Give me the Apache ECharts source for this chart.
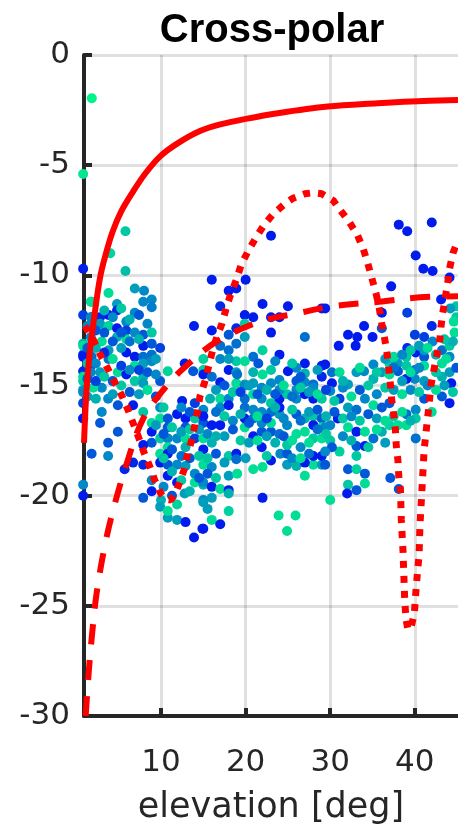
<!DOCTYPE html>
<html>
<head>
<meta charset="utf-8">
<script src="https://cdn.jsdelivr.net/npm/echarts@6/dist/echarts.min.js"></script>
<style>
html,body{margin:0;padding:0;background:#fff;}
#chart{width:458px;height:830px;}
</style>
</head>
<body>
<div id="chart"></div>
<script>
// ---- data ----
const titleText = 'Cross-polar';
const xName = 'elevation [deg]';
const xTicks = [10, 20, 30, 40];
const yTickInterval = 5;

// measured cross-polar points: [elevation, level dB, colour tone 0=blue..1=green]
const scatterData = [
 [1.82,-1.96,1],[0.8,-5.4,0.95],[5.8,-8.0,0.8],[4.0,-9.0,0.85],[0.8,-9.7,0.05],[5.8,-9.8,0.75],
 [23.0,-8.2,0.05],[38.1,-7.7,0.05],[39.1,-8.0,0.05],[42.0,-7.6,0.05],[40.1,-9.1,0.05],[41.0,-9.7,0.05],
 [42.1,-9.8,0.05],[44.1,-10.1,0.05],[37.2,-10.5,0.05],[29.4,-11.5,0.05],[39.1,-11.7,0.2],[36.1,-11.7,0.05],
 [43.1,-11.1,0.05],[34.0,-12.3,0.05],[32.1,-12.7,0.05],[33.2,-12.8,0.05],[35.0,-12.8,0.05],[31.0,-13.2,0.05],
 [33.0,-13.2,0.05],[36.1,-12.4,0.3],[42.0,-12.3,0.1],[40.0,-12.7,0.2],[41.1,-12.8,0.2],[39.1,-13.3,0.1],[40.1,-13.5,0.05],
 [29.4,-14.05,0.05],[30.2,-14.4,0.4],[31.1,-14.4,0.9],[33.1,-14.4,0.6],[34.0,-14.35,0.5],[35.1,-14.05,0.5],
 [36.1,-14.4,0.6],[37.0,-14.0,0.8],[38.0,-14.0,0.6],[39.0,-13.7,0.8],[41.1,-13.7,0.3],[41.1,-13.4,0.6],
 [42.1,-13.0,0.5],[43.2,-13.4,0.4],[44.1,-13.2,0.8],[44.9,-11.4,0.8],[44.9,-11.9,0.8],[44.7,-12.6,0.9],
 [44.1,-13.7,0.5],[43.2,-14.0,0.9],[41.1,-14.1,0.9],[40.0,-14.3,0.4],[39.0,-14.1,0.8],[38.0,-14.35,0.3],
 [37.0,-14.5,0.9],[35.1,-14.7,0.7],[32.1,-14.95,0.6],[30.2,-14.9,0.05],[40.0,-14.7,0.5],[39.0,-14.7,0.05],
 [41.1,-14.8,0.6],[43.2,-14.6,0.7],[44.1,-14.4,0.6],[44.3,-14.9,0.05],[44.9,-14.2,0.3],
 [6.9,-10.6,0.6],[8.0,-10.7,0.5],[3.8,-10.8,0.9],[1.8,-11.2,0.8],[7.9,-11.2,0.5],[8.9,-11.1,0.5],
 [4.8,-11.3,0.6],[8.9,-11.45,0.45],[6.9,-11.7,0.5],[0.8,-11.8,0.2],[3.8,-11.8,0.05],[4.8,-11.6,0.1],
 [1.8,-11.9,0.1],[2.8,-11.9,0.1],[5.9,-12.1,0.5],[13.9,-12.3,0.05],[2.8,-12.2,0.6],[3.8,-12.3,0.85],
 [4.8,-12.4,0.05],[5.9,-12.5,0.2],[7.9,-12.7,0.3],[8.9,-12.6,0.8],[6.9,-12.6,0.5],[4.8,-12.8,0.7],
 [5.9,-12.9,0.9],[0.8,-13.1,0.7],[3.0,-13.0,0.9],[7.9,-13.2,0.05],[8.9,-13.1,0.3],[9.9,-13.3,0.2],
 [3.8,-13.4,0.6],[0.8,-13.6,0.1],[1.8,-13.7,0.4],[5.9,-13.5,0.05],[6.9,-13.7,0.05],[7.9,-13.7,0.4],
 [8.9,-13.6,0.4],[3.8,-13.8,0.4],[6.9,-14.1,0.9],[7.9,-14.0,0.6],[8.9,-13.9,0.5],[0.8,-14.35,0.1],
 [2.8,-14.4,0.6],[4.9,-14.4,0.9],[5.9,-14.5,0.05],[7.9,-14.6,0.7],[10.8,-14.35,0.85],[12.8,-14.0,0.05],
 [0.8,-14.8,0.8],[9.9,-14.8,0.3],[6.9,-14.8,0.8],[7.9,-14.9,0.6],[13.8,-14.35,0.3],[15.0,-14.3,0.85],
 [16.0,-10.2,0.05],[20.0,-10.2,0.05],[18.0,-10.7,0.05],[18.9,-10.6,0.05],[17.0,-11.4,0.1],[22.0,-11.3,0.05],
 [25.0,-11.4,0.05],[29.0,-11.5,0.05],[19.9,-11.8,0.05],[20.9,-11.9,0.05],[23.0,-11.9,0.05],[24.0,-11.9,0.05],
 [16.0,-12.5,0.05],[18.9,-12.4,0.1],[19.9,-12.2,0.8],[23.0,-12.6,0.05],[27.0,-12.8,0.4],[18.0,-12.7,0.3],
 [19.9,-12.8,0.6],[18.9,-13.1,0.4],[22.0,-13.4,0.85],[17.0,-13.2,0.4],[18.0,-13.4,0.4],[20.9,-13.7,0.4],
 [24.0,-13.6,0.05],[15.0,-13.8,0.85],[18.9,-13.9,0.8],[19.9,-13.9,0.9],[17.0,-13.8,0.5],[18.0,-13.8,0.6],
 [27.0,-14.0,0.05],[29.0,-14.1,0.05],[26.0,-14.2,0.5],[15.0,-14.5,0.05],[18.0,-14.3,0.05],[18.9,-14.4,0.6],
 [20.9,-14.4,0.7],[22.0,-14.5,0.9],[23.0,-14.3,0.8],[25.0,-14.35,0.05],[27.0,-14.45,0.7],[29.0,-14.6,0.1],
 [16.0,-14.6,0.4],[17.0,-14.85,0.05],[18.9,-14.9,0.9],[19.9,-14.95,0.7],[20.9,-14.9,0.6],[23.0,-14.9,0.5],
 [24.0,-14.75,0.5],[26.0,-14.8,0.3],[27.0,-14.85,0.5],[28.0,-14.95,0.4],
 [0.8,-15.2,0.6],[3.0,-15.1,0.5],[2.0,-15.1,0.9],[0.8,-15.8,0.2],[3.75,-15.6,0.5],[4.9,-15.9,0.3],
 [6.7,-15.9,0.05],[3.0,-16.2,0.5],[0.8,-16.5,0.3],[2.8,-16.7,0.3],[4.9,-17.1,0.3],[3.75,-17.6,0.3],
 [1.8,-18.1,0.3],[3.75,-18.2,0.5],[6.7,-18.5,0.1],[5.7,-18.8,0.1],[0.8,-19.5,0.5],[0.8,-20.0,0.05],
 [7.9,-20.1,0.3],[8.9,-19.8,0.05],[10.0,-20.2,0.7],[9.9,-20.5,0.6],[10.8,-21.0,0.6],[11.9,-21.1,0.6],
 [12.9,-21.2,0.05],[14.9,-21.5,0.05],[13.9,-21.9,0.05],[10.8,-20.7,0.9],[11.9,-20.4,0.85],[12.8,-19.9,0.6],
 [15.0,-20.2,0.5],[7.9,-16.2,0.8],[8.9,-16.7,0.9],[9.9,-16.0,0.5],[9.9,-16.5,0.9],[10.8,-16.5,0.3],
 [10.8,-16.9,0.3],[11.9,-16.3,0.05],[12.9,-16.5,0.05],[12.9,-16.9,0.3],[14.0,-16.5,0.8],[14.0,-15.8,0.2],
 [15.0,-16.1,0.5],[15.0,-16.7,0.3],[8.9,-17.1,0.05],[8.9,-17.6,0.3],[9.9,-17.4,0.8],[10.8,-17.4,0.5],
 [10.8,-17.8,0.9],[9.9,-18.1,0.9],[11.9,-17.4,0.5],[12.9,-17.4,0.9],[12.9,-17.8,0.7],[14.0,-17.4,0.2],
 [15.0,-17.4,0.9],[10.8,-18.1,0.05],[9.9,-18.5,0.05],[10.8,-18.6,0.3],[11.9,-18.6,0.5],[12.9,-18.65,0.6],
 [14.0,-19.0,0.5],[15.0,-18.6,0.9],[10.8,-19.1,0.05],[11.9,-19.4,0.05],[14.0,-19.4,0.9],[15.0,-19.5,0.7],
 [8.9,-19.3,0.5],[7.9,-17.7,0.05],[7.9,-18.6,0.1],
 [15.8,-15.6,0.7],[17.0,-15.6,0.9],[18.0,-15.6,0.5],[15.0,-16.4,0.05],[16.0,-16.8,0.05],[17.0,-16.8,0.05],
 [17.0,-16.0,0.5],[18.0,-15.9,0.05],[16.0,-17.6,0.7],[15.0,-17.9,0.05],[18.0,-18.2,0.8],[18.9,-18.1,0.05],
 [18.9,-18.35,0.4],[16.0,-18.7,0.5],[18.0,-19.1,0.6],[15.0,-19.4,0.5],[16.0,-19.6,0.05],[17.0,-19.7,0.9],
 [18.0,-19.75,0.05],[18.0,-19.9,0.7],[16.0,-20.1,0.6],[15.0,-20.3,0.6],[18.0,-20.7,0.85],[16.0,-21.1,0.9],
 [17.0,-21.3,0.05],[15.0,-21.5,0.05],[22.0,-20.1,0.05],[23.9,-20.9,0.9],[25.9,-20.9,0.9],[24.9,-21.6,0.9],
 [20.9,-18.8,0.9],[22.0,-18.7,0.9],[27.0,-19.1,0.9],[24.9,-18.6,0.6],[26.0,-18.65,0.7],[28.0,-18.6,0.9],
 [29.0,-18.6,0.6],[27.0,-18.5,0.05],[24.1,-18.1,0.5],[24.9,-18.1,0.3],[23.0,-18.4,0.05],[21.9,-17.8,0.05],
 [19.9,-16.9,0.9],[20.9,-17.3,0.05],[21.9,-17.1,0.3],[23.0,-17.1,0.3],[24.0,-17.2,0.4],[24.9,-17.7,0.8],
 [26.0,-17.2,0.9],[27.0,-17.1,0.9],[28.0,-17.4,0.8],[29.0,-17.4,0.9],[28.0,-18.2,0.05],[29.0,-18.2,0.05],
 [19.9,-16.5,0.05],[20.9,-16.5,0.4],[21.9,-16.7,0.5],[23.0,-16.7,0.9],[24.0,-16.3,0.6],[24.9,-16.8,0.5],
 [26.0,-16.3,0.3],[27.0,-16.5,0.7],[28.0,-16.4,0.8],[29.0,-16.5,0.3],[28.0,-16.8,0.05],[29.0,-16.9,0.9],
 [19.9,-15.6,0.4],[20.9,-15.4,0.9],[21.9,-15.6,0.5],[23.0,-15.8,0.8],[24.0,-15.6,0.05],[24.9,-15.4,0.8],
 [26.0,-15.6,0.5],[27.0,-15.4,0.05],[28.0,-15.6,0.05],[29.0,-15.6,0.8],[19.9,-16.0,0.4],[20.9,-16.1,0.5],
 [21.9,-16.2,0.5],[24.0,-16.0,0.05],[23.0,-16.2,0.4],[19.9,-15.0,0.5],[21.9,-15.1,0.5],[24.0,-15.2,0.5],
 [26.0,-15.2,0.5],[28.0,-15.1,0.5],
 [30.0,-15.25,0.5],[31.1,-15.6,0.2],[32.1,-16.0,0.6],[33.1,-16.1,0.4],[34.1,-15.6,0.5],[35.1,-15.9,0.9],
 [36.1,-16.0,0.3],[37.0,-15.8,0.3],[39.0,-16.3,0.4],[40.1,-16.1,0.5],[40.1,-16.5,0.8],[41.1,-15.6,0.3],
 [42.0,-16.2,0.9],[43.2,-15.5,0.3],[44.1,-15.8,0.05],[30.0,-16.8,0.5],[30.9,-16.5,0.05],[32.1,-16.9,0.9],
 [33.1,-17.1,0.05],[34.1,-17.1,0.9],[35.1,-17.4,0.4],[36.1,-17.1,0.7],[37.0,-16.8,0.85],[38.0,-16.8,0.9],
 [39.0,-16.8,0.9],[40.1,-17.4,0.4],[30.0,-17.5,0.8],[31.1,-18.0,0.85],[30.2,-17.8,0.3],[33.1,-17.75,0.3],
 [34.1,-17.75,0.05],[33.1,-18.2,0.8],[32.1,-18.8,0.3],[33.1,-18.8,0.85],[34.1,-19.0,0.3],[32.1,-19.5,0.8],
 [33.1,-19.75,0.3],[34.1,-19.45,0.9],[32.0,-19.9,0.05],[30.0,-20.2,0.9],[37.1,-19.2,0.3],[38.1,-19.7,0.3],
 [29.4,-18.6,0.3],[29.4,-18.0,0.5],[29.4,-16.9,0.5],
 [0.8,-13.2,0.9],[0.8,-13.7,0.05],[0.8,-14.6,0.9],[0.8,-15.3,0.5],[0.8,-16.5,0.05],
 [1.7,-11.2,0.9],[1.7,-11.9,0.5],[1.7,-12.8,0.5],[1.7,-14.1,0.05],[1.7,-14.4,0.5],[12.5,-15.7,0.05],
 [16.5,-15.2,0.6],[17.5,-15.0,0.3],[18.5,-15.3,0.8],[19.4,-15.3,0.2],[20.4,-15.0,0.6],[21.4,-15.4,0.3],
 [22.5,-15.2,0.7],[23.5,-15.4,0.3],[24.5,-15.0,0.9],[25.5,-15.5,0.4],[26.5,-15.1,0.8],[27.5,-15.3,0.6],
 [28.5,-15.4,0.9],[29.5,-15.2,0.2],[16.5,-16.2,0.4],[17.5,-16.4,0.8],[18.5,-16.6,0.5],[19.4,-16.3,0.7],
 [20.4,-16.7,0.3],[21.4,-16.4,0.9],[22.5,-16.5,0.2],[23.5,-16.0,0.7],[24.5,-16.5,0.5],[25.5,-16.1,0.8],
 [26.5,-16.6,0.4],[27.5,-16.2,0.6],[28.5,-16.1,0.3],[29.5,-16.4,0.7],[17.5,-17.3,0.6],[18.5,-17.0,0.3],
 [19.4,-17.5,0.8],[20.4,-17.6,0.6],[21.4,-17.5,0.9],[22.5,-17.3,0.6],[23.5,-17.6,0.7],[24.5,-17.3,0.3],
 [25.5,-17.5,0.9],[26.5,-17.8,0.5],[27.5,-17.6,0.9],[28.5,-17.0,0.4],[29.5,-17.2,0.8],[19.0,-14.5,0.4],
 [21.5,-14.0,0.3],[23.5,-13.9,0.5],[25.5,-14.0,0.8],[26.5,-14.6,0.3],[28.5,-14.3,0.6],[22.5,-18.2,0.8],
 [25.5,-18.3,0.5],[26.5,-18.3,0.9],[27.5,-18.1,0.4],[20.0,-18.3,0.6],[19.0,-19.0,0.9],
 [30.5,-15.7,0.8],[31.5,-15.1,0.5],[32.5,-15.5,0.9],[33.5,-15.2,0.3],[34.5,-15.0,0.8],[35.5,-15.4,0.5],
 [36.5,-15.1,0.8],[37.5,-15.2,0.6],[38.5,-15.4,0.9],[39.5,-15.2,0.5],[40.5,-15.3,0.8],[41.5,-15.0,0.5],
 [42.5,-15.2,0.9],[43.5,-15.0,0.6],[44.5,-15.3,0.8],[30.5,-16.2,0.3],[31.5,-16.5,0.8],[32.5,-16.4,0.5],
 [33.5,-16.6,0.8],[34.5,-16.3,0.3],[35.5,-16.5,0.6],[36.5,-16.6,0.9],[37.5,-16.4,0.8],[38.5,-16.2,0.9],
 [39.5,-16.6,0.7],[31.5,-17.3,0.5],[32.5,-17.5,0.7],[34.5,-17.8,0.8],[35.5,-17.0,0.9],[36.5,-17.6,0.6],
 [31.5,-14.8,0.7],[33.5,-14.2,0.9],[35.5,-14.4,0.8],[36.5,-13.8,0.6],[37.5,-13.7,0.9],[38.5,-13.6,0.5],
 [39.5,-13.4,0.8],[40.5,-13.2,0.6],[41.5,-13.3,0.9],[42.5,-13.6,0.7],[43.5,-12.9,0.8],[44.5,-13.0,0.7],
 [42.5,-14.4,0.8],[43.7,-13.8,0.9],[44.6,-12.1,0.9],[44.2,-11.5,0.6],[37.5,-14.2,0.4],[38.5,-14.8,0.6],
 [39.5,-14.4,0.9],[40.5,-14.2,0.5],
 [1.3,-12.3,0.5],[1.3,-13.3,0.3],[1.3,-14.0,0.8],[1.3,-14.7,0.3],[1.3,-15.5,0.6],[2.3,-12.5,0.3],
 [2.3,-13.3,0.7],[2.3,-14.0,0.5],[2.3,-14.8,0.2],[2.3,-15.6,0.7],[3.3,-11.6,0.7],[3.3,-12.6,0.3],
 [3.3,-13.5,0.1],[3.3,-14.6,0.8],[4.3,-11.9,0.5],[4.3,-13.0,0.3],[4.3,-13.8,0.9],[4.3,-14.8,0.3],
 [4.3,-15.4,0.6],[5.3,-11.5,0.8],[5.3,-12.6,0.3],[5.3,-13.3,0.6],[5.3,-14.1,0.2],[5.3,-15.0,0.8],
 [6.3,-12.0,0.7],[6.3,-13.0,0.4],[6.3,-14.3,0.5],[6.3,-15.3,0.3],[7.4,-11.8,0.3],[7.4,-12.9,0.7],
 [7.4,-14.3,0.2],[7.4,-15.4,0.6],[8.4,-12.2,0.5],[8.4,-14.4,0.3],[8.4,-15.2,0.9],[9.4,-13.8,0.6],
 [9.4,-14.5,0.5],[9.4,-15.5,0.3],
 [9.4,-16.8,0.6],[10.3,-16.0,0.8],[10.3,-17.2,0.3],[10.3,-18.3,0.8],[10.3,-19.6,0.5],[11.3,-16.9,0.8],
 [11.3,-17.9,0.3],[11.3,-18.9,0.7],[11.3,-20.0,0.3],[12.4,-16.0,0.5],[12.4,-17.1,0.6],[12.4,-18.2,0.4],
 [12.4,-19.3,0.8],[13.4,-16.2,0.3],[13.4,-17.0,0.8],[13.4,-18.3,0.3],[13.4,-19.8,0.7],[14.5,-17.0,0.6],
 [14.5,-18.2,0.8],[14.5,-19.2,0.3],[15.5,-17.2,0.5],[15.5,-18.3,0.8],[15.5,-19.0,0.3],[16.5,-17.3,0.7],
 [16.5,-18.1,0.3],[16.5,-19.2,0.8],[17.5,-18.5,0.6],[15.5,-20.6,0.6]
];

// model curves: [elevation, level dB]
const solidCurve = [
 [0.9,-17.6],[1.2,-15.2],[1.6,-13.4],[2.0,-12.2],[2.8,-10.1],[3.5,-9.0],[4.3,-8.0],[5.3,-7.1],
 [6.7,-6.2],[8.1,-5.4],[9.9,-4.6],[12.0,-4.0],[14.6,-3.45],[17.0,-3.15],[20.0,-2.9],[23.8,-2.64],
 [29.7,-2.34],[35.6,-2.19],[39.6,-2.11],[45.1,-2.04]
];
const dashedCurve = [
 [1.1,-30],[1.4,-28.3],[1.8,-26.5],[2.4,-24.4],[3.4,-22.2],[4.45,-20.5],[5.9,-18.6],[7.9,-16.5],
 [10.7,-15.0],[13.0,-14.1],[16.6,-13.0],[21.7,-12.1],[26.4,-11.7],[30.3,-11.4],[35.8,-11.2],[40.6,-11.0],[45.1,-10.95]
];
const dottedCurve = [
 [0.99,-12.3],[1.97,-12.9],[2.76,-13.55],[3.66,-14.2],[4.45,-14.8],[5.3,-15.4],[6.1,-16.1],[6.7,-16.7],
 [7.3,-17.3],[7.95,-18.0],[8.6,-18.6],[9.26,-19.3],[9.97,-19.9],[10.5,-20.15],[11.15,-20.2],[11.7,-19.9],
 [12.1,-19.5],[12.7,-18.85],[13.1,-18.2],[13.6,-17.5],[14.0,-16.8],[14.3,-16.2],[14.6,-15.5],[15.2,-14.8],
 [16.1,-13.4],[16.6,-12.8],[17.2,-12.2],[17.7,-11.5],[18.2,-10.9],[18.9,-10.2],[19.5,-9.5],[20.3,-8.9],
 [21.2,-8.3],[22.2,-7.7],[23.3,-7.2],[24.8,-6.7],[25.6,-6.5],[27.0,-6.3],[28.0,-6.25],[29.0,-6.3],
 [30.35,-6.6],[31.1,-7.0],[32.2,-7.55],[33.2,-8.16],[33.9,-8.8],[34.4,-9.4],[34.9,-10.1],[35.4,-10.8],
 [35.8,-11.5],[36.1,-12.2],[36.4,-12.8],[36.7,-13.5],[36.9,-14.2],[37.1,-14.9],[37.25,-15.6],[37.5,-16.3],
 [37.7,-17.0],[37.8,-17.7],[38.0,-18.4],[38.1,-19.1],[38.3,-19.75],[38.35,-20.4],[38.4,-21.1],[38.5,-21.8],
 [38.6,-22.5],[38.7,-23.6],[38.8,-24.7],[38.95,-25.6],[39.2,-26.1],[39.6,-25.9],[39.95,-25.3],[40.15,-24.2],
 [40.35,-23.3],[40.5,-22.7],[40.55,-22.05],[40.6,-21.4],[40.7,-20.7],[40.8,-20.0],[40.9,-19.3],[41.0,-18.6],
 [41.1,-17.9],[41.3,-17.2],[41.5,-16.5],[41.7,-15.8],[41.9,-15.0],[42.2,-14.4],[42.5,-13.8],[42.9,-13.1],
 [43.1,-12.3],[43.3,-11.7],[43.6,-11.0],[43.9,-10.3],[44.1,-9.7],[44.5,-9.0],[45.1,-8.4]
];

const xMin = 0.9, xMax = 45.1, yMin = -30, yMax = 0;

// ---- chart ----
const axisColor = '#262626';
const gridColor = 'rgba(0,0,0,0.12)';
const chart = echarts.init(document.getElementById('chart'), null, {renderer: 'canvas'});
chart.setOption({
  animation: false,
  backgroundColor: '#ffffff',
  title: {
    text: titleText, left: 272, top: 11, padding: 0, textAlign: 'center',
    textStyle: {fontFamily: 'Liberation Sans', fontWeight: 'bold', fontSize: 40, color: '#000'}
  },
  grid: {left: 84, right: 0, top: 55, bottom: 113, containLabel: false},
  visualMap: {
    show: false, type: 'continuous', dimension: 2, min: 0, max: 1, seriesIndex: 0,
    inRange: {color: ['#0010f0', '#0088c8', '#00f28a']}
  },
  xAxis: {
    type: 'value', min: xMin, max: xMax,
    name: xName, nameLocation: 'middle', nameGap: 74,
    nameTextStyle: {fontFamily: 'DejaVu Sans', fontSize: 35, color: axisColor},
    axisLine: {show: true, onZero: false, lineStyle: {color: axisColor, width: 4}},
    axisTick: {show: true, inside: true, length: 8, customValues: xTicks, lineStyle: {color: axisColor, width: 4}},
    axisLabel: {customValues: xTicks, fontFamily: 'DejaVu Sans', fontSize: 31, color: axisColor, margin: 31},
    splitLine: {show: true, lineStyle: {color: gridColor, width: 3}}
  },
  yAxis: {
    type: 'value', min: yMin, max: yMax, interval: yTickInterval,
    axisLine: {show: true, onZero: false, lineStyle: {color: axisColor, width: 4}},
    axisTick: {show: true, inside: true, length: 8, lineStyle: {color: axisColor, width: 4}},
    axisLabel: {fontFamily: 'DejaVu Sans', fontSize: 31, color: axisColor, margin: 14},
    splitLine: {show: true, lineStyle: {color: gridColor, width: 3}}
  },
  series: [
    {type: 'scatter', data: scatterData, symbolSize: 10, clip: false, z: 2,
     itemStyle: {opacity: 1}},
    {type: 'line', data: solidCurve, smooth: 0.35, showSymbol: false, z: 5, clip: true,
     lineStyle: {color: '#ff0000', width: 6, type: 'solid'}},
    {type: 'line', data: dashedCurve, smooth: 0.35, showSymbol: false, z: 5, clip: true,
     lineStyle: {color: '#ff0000', width: 6, type: [20, 16], cap: 'butt'}},
    {type: 'line', data: dottedCurve, smooth: false, showSymbol: false, z: 5, clip: true,
     lineStyle: {color: '#ff0000', width: 7, type: [7, 8], cap: 'butt'}}
  ]
});
</script>
</body>
</html>
